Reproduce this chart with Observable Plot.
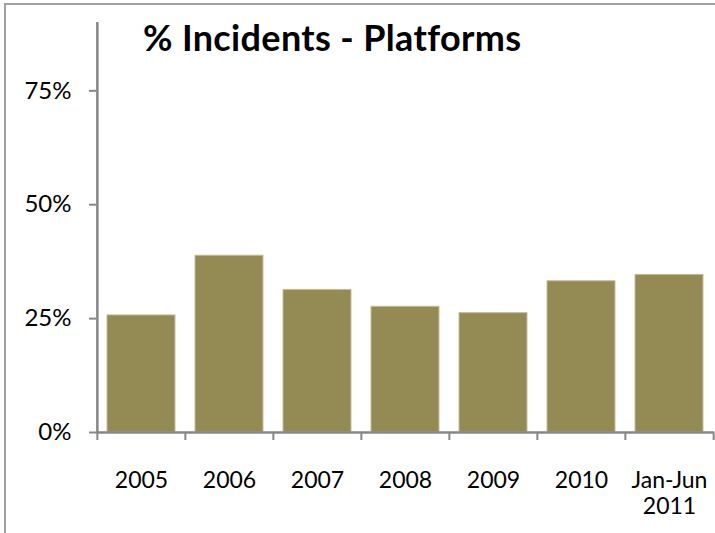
<!DOCTYPE html>
<html><head><meta charset="utf-8">
<script src="https://cdn.jsdelivr.net/npm/d3@7"></script>
<script src="https://cdn.jsdelivr.net/npm/@observablehq/plot@0.6"></script>
<style>
body{margin:0;background:#fff;}
#wrap{position:relative;width:715px;height:533px;overflow:hidden;font-family:Lato,"Open Sans",sans-serif;}
#border{position:absolute;left:4px;top:3px;width:730px;height:560px;border-left:2px solid #a0a0a0;border-top:2px solid #a0a0a0;}
#title{position:absolute;left:143px;top:16px;font-weight:bold;font-size:36px;letter-spacing:0.35px;color:#000;white-space:nowrap;line-height:1.2;}
#chart{position:absolute;left:0;top:0;}
</style></head><body>
<div id="wrap"><div id="border"></div><div id="chart"></div><div id="title">% Incidents - Platforms</div></div>
<script>
const categories = ["2005","2006","2007","2008","2009","2010","Jan-Jun\n2011"];
const values = [0.257,0.388,0.313,0.276,0.262,0.332,0.346];
const yTicks = [0,0.25,0.5,0.75];
const yMax = 0.9;

const data = categories.map((c,i)=>({cat:c, v:values[i]}));
const W = 715, H = 533, ML = 96, MR = 1;
const step = (W-ML-MR)/categories.length;
const axisColor = "#878787";

const plot = Plot.plot({
  width: W, height: H,
  marginLeft: ML, marginRight: MR, marginTop: 22, marginBottom: 101,
  style: {fontFamily: "Lato, 'Open Sans', sans-serif", background: "transparent", color: "#000"},
  x: {domain: categories, paddingInner: 0.23, paddingOuter: 0.115, label: null},
  y: {domain: [0, yMax], label: null},
  marks: [
    Plot.barY(data, {x: "cat", y: "v", fill: "#948A54", stroke: "#c4bd98", strokeWidth: 1}),
    Plot.ruleY([0], {stroke: axisColor, strokeWidth: 2.5}),
    Plot.ruleX([categories[0]], {x: d=>d, y1: 0, y2: yMax, dx: -step/2, stroke: axisColor, strokeWidth: 2.5}),
    Plot.ruleX(categories, {x: d=>d, y1: 0, y2: 0, insetBottom: -8, dx: -step/2, stroke: axisColor, strokeWidth: 2}),
    Plot.ruleX([categories[categories.length-1]], {x: d=>d, y1: 0, y2: 0, insetBottom: -8, dx: step/2, stroke: axisColor, strokeWidth: 2}),
    Plot.axisY({ticks: yTicks, tickFormat: d3.format(".0%"), tickSize: 7, tickPadding: 18, stroke: axisColor, strokeWidth: 2, fontSize: 24, fill: "#000", label: null}),
    Plot.axisX({tickSize: 0, tickPadding: 37, fontSize: 23, lineHeight: 1.13, fill: "#000", label: null})
  ]
});
document.getElementById("chart").appendChild(plot);
</script>
</body></html>
